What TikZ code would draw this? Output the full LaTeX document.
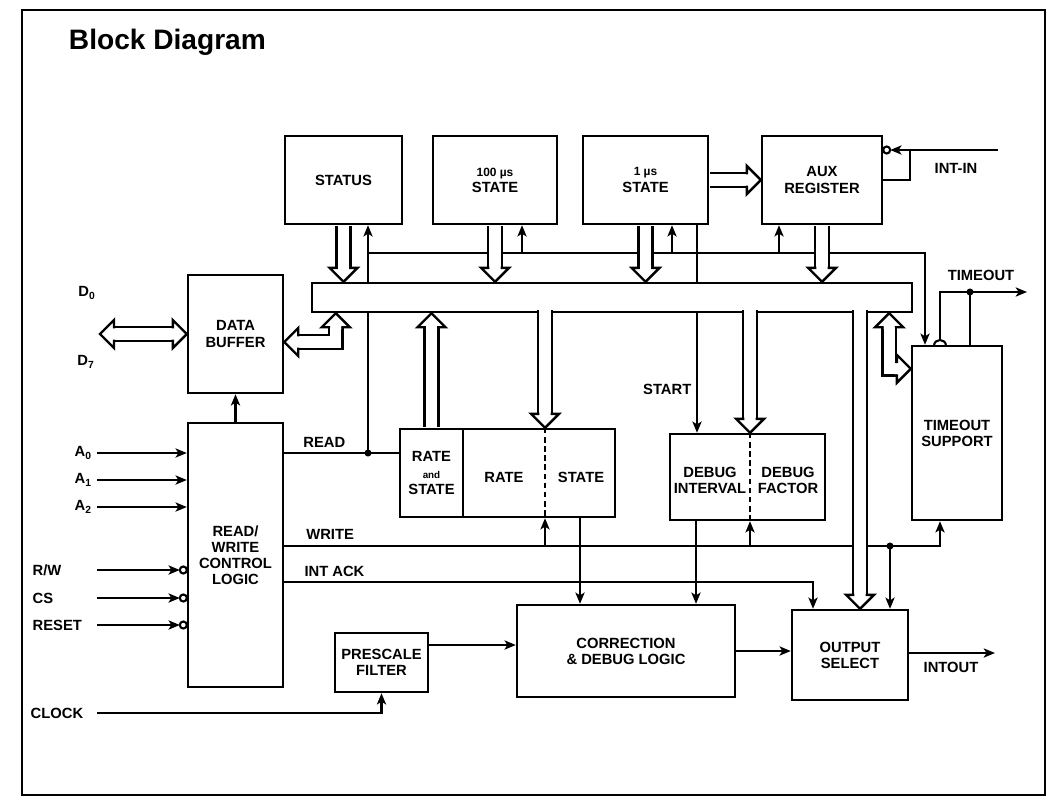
\documentclass[tikz,border=0pt]{standalone}
\usepackage{fontspec}
\setmainfont{Liberation Sans}
\usetikzlibrary{arrows.meta,calc}

\newcommand{\boxfont}{\fontsize{10.5}{11.5}\selectfont\bfseries}

\tikzset{
  fathead/.pic={
    \fill[white] (0,0) -- (-14,-14) -- (-14,-5.6) -- (-16,-5.6)
      -- (-16,5.6) -- (-14,5.6) -- (-14,14) -- cycle;
    \draw[line width=1.7pt, line join=miter]
      (-14,-5.6) -- (-14,-14) -- (0,0) -- (-14,14) -- (-14,5.6);
  }
}

\begin{document}
\begin{tikzpicture}[x=0.025cm, y=-0.025cm,
  blk/.style={draw, line width=1.7pt, align=center, inner sep=1pt, font=\boxfont},
  sz/.style 2 args={minimum width=#1*0.025cm, minimum height=#2*0.025cm},
  lbl/.style={font=\boxfont, inner sep=1pt},
  sig/.style={line width=1.5pt},
  arr/.style={sig, -{Stealth[length=8pt, width=6.5pt, inset=2pt]}},
  fat/.style={double, double distance=8pt, line width=1.7pt, line cap=butt, line join=miter},
  dot/.style={circle, fill, inner sep=0pt, minimum size=5pt},
  div/.style={line width=1.7pt, dash pattern=on 4pt off 2.5pt}
]
  \useasboundingbox (0,0) rectangle (1050,808);
  \draw[line width=1.9pt] (22,10) rectangle (1045,795);
  \node[anchor=west, font=\fontsize{20}{24}\selectfont\bfseries] (title) at (64,42) {Block Diagram};

  % ---- top row ----
  \node[blk, sz={117}{88}] (status) at (343.5,180) {STATUS};
  \node[blk, sz={124}{88}] (st100) at (495,180) {{\fontsize{8.5}{9}\selectfont 100 µs}\\STATE};
  \node[blk, sz={125}{88}] (st1) at (645.5,180) {{\fontsize{8.5}{9}\selectfont 1 µs}\\STATE};
  \node[blk, sz={120}{88}] (aux) at (822,180) {AUX\\REGISTER};
  \node[blk, sz={600}{29}] (bus) at (612,297.5) {};

  % ---- left column ----
  \node[blk, sz={95}{118}] (databuf) at (235.5,334) {DATA\\BUFFER};
  \node[blk, sz={95}{264}] (rwcl) at (235.5,555) {READ/\\WRITE\\CONTROL\\LOGIC};

  % ---- middle row ----
  \node[blk, sz={63}{88}] (ras) at (431.5,473) {RATE\\{\fontsize{7}{8}\selectfont and}\\STATE};
  \node[blk, sz={152}{88}] (rs) at (539,473) {};
  \node[lbl] (rsl) at (504,477) {RATE};
  \node[lbl] (rsr) at (581,477) {STATE};
  \node[blk, sz={155}{86}] (dbg) at (747.5,477) {};
  \node[lbl, align=center] (dbgl) at (710,480) {DEBUG\\INTERVAL};
  \node[lbl, align=center] (dbgr) at (788,480) {DEBUG\\FACTOR};
  \node[blk, sz={90}{174}] (timeout) at (957,433) {TIMEOUT\\SUPPORT};

  % ---- bottom row ----
  \node[blk, sz={93}{59}] (prescale) at (381.5,662.5) {PRESCALE\\FILTER};
  \node[blk, sz={218}{92}] (corr) at (626,651) {CORRECTION\\\& DEBUG LOGIC};
  \node[blk, sz={116}{90}] (outsel) at (850,655) {OUTPUT\\SELECT};

  % ---- tap points ----
  \coordinate (rdj) at (368,453);
  \coordinate (ctl) at (368,253);
  \coordinate (t100) at (522,253);
  \coordinate (t1) at (672,253);
  \coordinate (taux) at (779,253);
  \coordinate (tto) at (925,253);
  \coordinate (start) at (697,389);
  \coordinate (rsdiv) at (545,473);
  \coordinate (dbdiv) at (750,477);
  \coordinate (osf) at (860,655);
  \coordinate (wto) at (940,546);
  \coordinate (wos) at (890,546);
  \coordinate (iak) at (813,582);
  \coordinate (rsc) at (580,560);
  \coordinate (dbc) at (696,560);
  \coordinate (pcy) at (470,645);
  \coordinate (iout) at (995,653);
  \coordinate (iin) at (998,150);
  \coordinate (iinj) at (910,150);
  \coordinate (bump) at (940,340);
  \coordinate (toj) at (970,292);
  \coordinate (tout) at (1027,292);
  \coordinate (inx) at (97,0);
  \coordinate (dbus) at (100,334);

  % ---- inputs ----
  \foreach \n/\y/\t in {a0/453/A\textsubscript{0}, a1/480/A\textsubscript{1}, a2/507/A\textsubscript{2}} {
    \node[lbl, anchor=west] (\n) at (73,\y) {\t};
    \draw[arr] (inx |- \n) -- (\n -| rwcl.west);
  }
  \foreach \n/\y/\t in {rw/570/{R/W}, cs/598/CS, rst/625/RESET} {
    \node[lbl, anchor=west] (\n) at (31,\y) {\t};
    \draw[sig] ($(\n -| rwcl.west)+(-3.5,0)$) circle (2.5pt);
    \draw[arr] (inx |- \n) -- ($(\n -| rwcl.west)+(-7,0)$);
  }
  \node[lbl, anchor=west] (clock) at (29,713) {CLOCK};
  \draw[arr] (inx |- clock) -| (prescale.south);
  \node[lbl] (d0) at (87,293) {D\textsubscript{0}};
  \node[lbl] (d7) at (86,362) {D\textsubscript{7}};
  \draw[arr] (rwcl.north) -- (databuf.south);

  % ---- READ and control line ----
  \draw[sig] (rwcl.east |- rdj) -- node[lbl, pos=0.35, above=2pt] (read) {READ} (ras.west |- rdj);
  \node[dot] at (rdj) {};
  \draw[sig] (rdj) -- (rdj |- bus.south);
  \draw[arr] (ctl |- bus.north) -- (ctl |- status.south);
  \draw[arr] (ctl) -- (tto) -- (tto |- timeout.north);
  \foreach \c/\b in {t100/st100, t1/st1, taux/aux}
    \draw[arr] (\c) -- (\c |- \b.south);

  % ---- START ----
  \draw[sig] (start |- st1.south) -- (start |- bus.north);
  \draw[arr] (start |- bus.south) -- (start |- dbg.north);
  \node[lbl, anchor=east] (startl) at ($(start)+(-4,0)$) {START};

  % ---- WRITE ----
  \draw[arr] (rwcl.east |- wto) -- node[lbl, pos=0.07, above=3pt] (write) {WRITE} (wto) -- (wto |- timeout.south);
  \draw[arr] (rsdiv |- wto) -- (rsdiv |- rs.south);
  \draw[arr] (dbdiv |- wto) -- (dbdiv |- dbg.south);
  \draw[arr] (wos) -- (wos |- outsel.north);
  \node[dot] at (wos) {};

  % ---- INT ACK ----
  \draw[arr] (rwcl.east |- iak) -- node[lbl, pos=0.095, above=2pt] (intack) {INT ACK} (iak) -- (iak |- outsel.north);

  % ---- lower data path ----
  \draw[arr] (rsc |- rs.south) -- (rsc |- corr.north);
  \draw[arr] (dbc |- dbg.south) -- (dbc |- corr.north);
  \draw[arr] (prescale.east |- pcy) -- (corr.west |- pcy);
  \draw[arr] (corr.east) -- (corr.east -| outsel.west);
  \draw[arr] (outsel.east |- iout) -- (iout);
  \node[lbl] (intout) at (951,667) {INTOUT};

  % ---- INT-IN ----
  \node[lbl] (intin) at (956,168) {INT-IN};
  \draw[sig] (iin) -- (iinj);
  \draw[arr] (iinj) -- ($(aux.east |- iin)+(7,0)$);
  \draw[sig] ($(aux.east |- iin)+(3.5,0)$) circle (2.5pt);
  \draw[sig] (iinj) |- (aux.east);

  % ---- TIMEOUT output ----
  \draw[sig] ($(bump)+(-6,6)$) .. controls ($(bump)+(-6,-2)$) and ($(bump)+(6,-2)$) .. ($(bump)+(6,6)$);
  \draw[arr] (bump) |- (tout);
  \draw[sig] (toj |- timeout.north) -- (toj);
  \node[dot] at (toj) {};
  \node[lbl] (timeoutl) at (981,275) {TIMEOUT};

  % ---- dividers ----
  \draw[div] (rsdiv |- rs.north) -- (rsdiv |- rs.south);
  \draw[div] (dbdiv |- dbg.north) -- (dbdiv |- dbg.south);

  % ---- hollow bus arrows ----
  \foreach \b in {status, st100, st1, aux} {
    \draw[fat] ($(\b.south)+(0,1.2)$) -- ($(\b.south |- bus.north)+(0,-14)$);
    \pic[rotate=-90] at (\b.south |- bus.north) {fathead};
  }
  \draw[fat] ($(st1.east)+(1.2,0)$) -- ($(aux.west |- st1.east)+(-14,0)$);
  \pic at (aux.west |- st1.east) {fathead};

  \foreach \c/\b in {rsdiv/rs, dbdiv/dbg, osf/outsel} {
    \draw[fat] ($(\c |- bus.south)+(0,-3)$) -- ($(\c |- \b.north)+(0,-14)$);
    \pic[rotate=-90] at (\c |- \b.north) {fathead};
  }
  \draw[fat] ($(ras.north)+(0,-1.2)$) -- ($(ras.north |- bus.south)+(0,14)$);
  \pic[rotate=90] at (ras.north |- bus.south) {fathead};

  \coordinate (dbbus) at ($(bus.south west)+(25,0)$);
  \coordinate (dbarm) at ($(databuf.east)+(0,8)$);
  \draw[fat] ($(dbarm)+(14,0)$) -| ($(dbbus)+(0,14)$);
  \pic[rotate=180] at (dbarm) {fathead};
  \pic[rotate=90] at (dbbus) {fathead};

  \coordinate (tobus) at ($(bus.south east)+(-24,0)$);
  \coordinate (toarm) at ($(timeout.north west)+(0,24)$);
  \draw[fat] ($(toarm)+(-14,0)$) -| ($(tobus)+(0,14)$);
  \pic at (toarm) {fathead};
  \pic[rotate=90] at (tobus) {fathead};

  \draw[fat] ($(dbus)+(14,0)$) -- ($(databuf.west)+(-14,0)$);
  \pic[rotate=180] at (dbus) {fathead};
  \pic at (databuf.west) {fathead};
\end{tikzpicture}
\end{document}
